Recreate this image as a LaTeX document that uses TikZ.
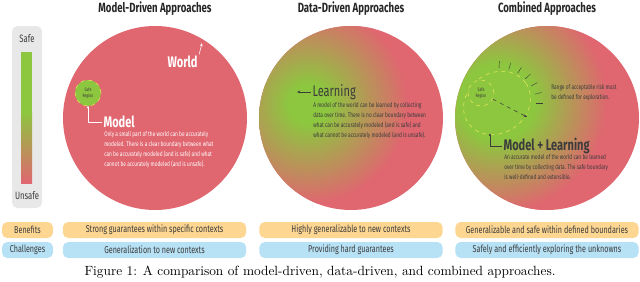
\documentclass[tikz,border=0pt]{standalone}
\usepackage{fontspec}
\newfontfamily\condfont[FakeStretch=0.72]{Fira Sans}
\usetikzlibrary{arrows.meta,calc,shapes.geometric}

\definecolor{unsafered}{HTML}{E06670}
\definecolor{safegreen}{HTML}{8DC63F}
\definecolor{dashyellow}{HTML}{E8E85C}
\definecolor{benefitorange}{HTML}{FDD692}
\definecolor{challengeblue}{HTML}{B7E1F5}
\definecolor{gaugegray}{HTML}{E8E8E8}
\definecolor{inktext}{HTML}{3C3C3C}

\pgfdeclareradialshading{learnglow}{\pgfpointorigin}{color(0bp)=(safegreen); color(5bp)=(safegreen); color(25bp)=(unsafered); color(50bp)=(unsafered)}
\pgfdeclareradialshading{mixglow}{\pgfpointorigin}{color(0bp)=(safegreen); color(8bp)=(safegreen); color(23bp)=(unsafered); color(50bp)=(unsafered)}

\tikzset{
  heading/.style={font={\condfont\bfseries\fontsize{10}{12}\selectfont}, text=black!85},
  biglabel/.style={font={\condfont\fontsize{11.5}{13}\selectfont}, text=inktext, inner sep=1pt},
  boldlabel/.style={biglabel, font={\condfont\bfseries\fontsize{11.5}{13}\selectfont}, text=white},
  desc/.style={anchor=north west, align=left, inner sep=0pt, text=inktext,
    font={\condfont\fontsize{5}{7.5}\selectfont}},
  gaugetext/.style={font={\condfont\fontsize{8}{9}\selectfont}, text=inktext},
  saferegion/.style={circle, draw=dashyellow, dashed, fill=safegreen, minimum size=19.5pt,
    inner sep=0pt, align=center, text=inktext, font={\condfont\fontsize{3.6}{4.2}\selectfont}},
  pointer/.style={-{Stealth[length=2.5pt,width=2pt]}, line width=0.4pt},
  dotleader/.style={-{Circle[length=1.6pt]}, line width=0.4pt},
  ray/.style={inktext, line width=0.3pt},
  tagbox/.style={rounded corners=4pt, minimum width=38.25pt, minimum height=12pt, inner sep=0pt,
    text=inktext, font={\condfont\fontsize{7.5}{9}\selectfont}},
  rowbox/.style={tagbox, minimum width=137.5pt},
}

\begin{document}
\begin{tikzpicture}[x=0.75pt,y=-0.75pt]
\useasboundingbox (0,0) rectangle (640,282);

% titles
\node[heading] (mdtitle) at (155,9) {Model-Driven Approaches};
\node[heading] (ddtitle) at (351,9) {Data-Driven Approaches};
\node[heading] (cbtitle) at (547,9) {Combined Approaches};

% safety gauge
\fill[gaugegray, rounded corners=4pt] (12,26) rectangle (42,208);
\fill[safegreen] (21,52) rectangle (32,112);
\shade[top color=safegreen, bottom color=unsafered] (21,112) rectangle (32,183);
\node[gaugetext] (safe) at (27,39) {Safe};
\node[gaugetext] (unsafe) at (27,196) {Unsafe};

% model-driven
\fill[unsafered] (155,118) circle (92);
\node[saferegion] (sr1) at (88,93) {Safe\\Region};
\node[boldlabel, anchor=west] (world) at (166,62) {World};
\coordinate (worldtip) at (202,43);
\draw[pointer, white] (world.north east) -- (worldtip);
\node[boldlabel, anchor=west] (model) at (102,122) {Model};
\draw[dotleader, white] (model.west) -| (sr1.south);
\node[desc, text=white] (modeldesc) at (104,131) {Only a small part of the world can be accurately\\modeled. There is a clear boundary between what\\can be accurately modeled (and is safe) and what\\cannot be accurately modeled (and is unsafe).};

% data-driven
\fill[unsafered] (351,118) circle (92);
\begin{scope}
\clip (351,118) circle (92);
\shade[shading=learnglow] (308,104) circle (100);
\end{scope}
\node[biglabel, anchor=west] (learning) at (311,92) {Learning};
\coordinate (learnpt) at (297,92);
\draw[pointer, inktext] (learning.west) -- (learnpt);
\node[desc] (learndesc) at (313,102) {A model of the world can be learned by collecting\\data over time. There is no clear boundary between\\what can be accurately modeled (and is safe) and\\what cannot be accurately modeled (and is unsafe).};

% combined
\fill[unsafered] (547,118) circle (92);
\begin{scope}
\clip (547,118) circle (92);
\shade[shading=mixglow] (497,102) circle (120);
\end{scope}
\node[ellipse, draw=dashyellow, dashed, fill=safegreen, minimum width=52.5pt, minimum height=45pt, rotate=35] (ell3) at (497,103) {};
\node[saferegion] (sr3) at (481,93) {Safe\\Region};
\coordinate (edge3) at (527,117);
\draw[pointer, dashed, inktext] (sr3) -- (edge3);
\foreach \a in {-87,-72.5,...,0}
  \draw[ray] ($(ell3.center)+(\a:39 and 35)$) -- ($(ell3.center)+(\a:46 and 42)$);
\node[desc] (rangetext) at (551,84) {Range of acceptable risk must\\be defined for exploration.};
\node[biglabel, font={\condfont\bfseries\fontsize{11.5}{13}\selectfont}, anchor=west] (mixlabel) at (502,146) {Model + Learning};
\coordinate (mixdot) at (490,134);
\draw[dotleader, inktext] (mixlabel.west) -| (mixdot);
\node[desc] (mixdesc) at (504,154) {An accurate model of the world can be learned\\over time by collecting data. The safe boundary\\is well-defined and extensible.};

% benefits and challenges
\node[tagbox, fill=benefitorange] (benefits) at (27.5,230) {Benefits};
\node[tagbox, fill=challengeblue] (challenges) at (27.5,250) {Challenges};
\node[rowbox, fill=benefitorange] (mdbenefit) at (154.5,230) {Strong guarantees within specific contexts};
\node[rowbox, fill=challengeblue] (mdchallenge) at (154.5,250) {Generalization to new contexts};
\node[rowbox, fill=benefitorange] (ddbenefit) at (351,230) {Highly generalizable to new contexts};
\node[rowbox, fill=challengeblue] (ddchallenge) at (351,250) {Providing hard guarantees};
\node[rowbox, fill=benefitorange] (cbbenefit) at (547,230) {Generalizable and safe within defined boundaries};
\node[rowbox, fill=challengeblue] (cbchallenge) at (547,250) {Safely and efficiently exploring the unknowns};

\node (caption) at (320,272) {Figure 1: A comparison of model-driven, data-driven, and combined approaches.};
\end{tikzpicture}
\end{document}
